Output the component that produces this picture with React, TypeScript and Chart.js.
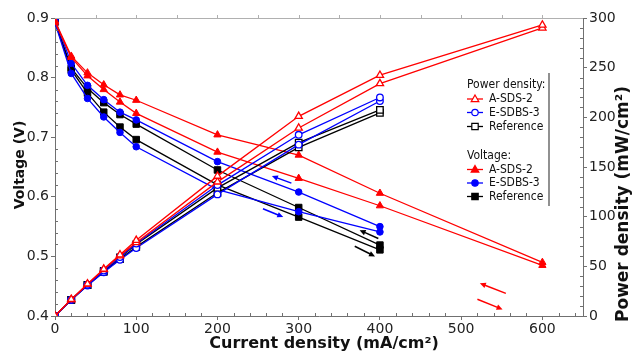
import React, { useEffect, useRef } from "react";
import { Chart, registerables } from "chart.js";

Chart.register(...registerables);

// ---------- data ----------
const currentDensity = [0, 20, 40, 60, 80, 100, 200, 300, 400, 600];

// Voltage (V) – two scan directions per sample
const voltageA1 = [0.895, 0.836, 0.808, 0.788, 0.771, 0.762, 0.704, 0.670, 0.606, 0.490];
const voltageA2 = [0.893, 0.834, 0.803, 0.780, 0.759, 0.740, 0.675, 0.631, 0.585, 0.485];
const voltageE1 = [0.897, 0.824, 0.787, 0.763, 0.742, 0.729, 0.659, 0.608, 0.550];
const voltageE2 = [0.892, 0.807, 0.765, 0.734, 0.708, 0.684, 0.612, 0.575, 0.541];
const voltageR1 = [0.895, 0.816, 0.782, 0.758, 0.738, 0.722, 0.645, 0.582, 0.519];
const voltageR2 = [0.893, 0.813, 0.774, 0.742, 0.717, 0.696, 0.620, 0.566, 0.511];

// Power density (mW/cm²)
const powerA1 = [0, 16.7, 32.3, 47.3, 61.7, 76.2, 140.8, 201.0, 242.4, 293.0];
const powerA2 = [0, 16.7, 32.1, 46.8, 60.7, 74.0, 135.0, 189.3, 234.0, 290.0];
const powerE1 = [0, 16.5, 31.5, 45.8, 59.4, 72.9, 131.8, 182.4, 220.0];
const powerE2 = [0, 16.1, 30.6, 44.0, 56.6, 68.4, 122.4, 172.5, 216.4];
const powerR1 = [0, 16.3, 31.2, 45.5, 59.0, 72.2, 129.0, 174.6, 207.6];
const powerR2 = [0, 16.3, 31.0, 44.5, 57.4, 69.6, 124.0, 169.8, 204.4];

const seriesNames = ["A-SDS-2", "E-SDBS-3", "Reference"];
const legendGroups = ["Power density:", "Voltage:"];

// scan-direction arrows [xFrom, vFrom, xTo, vTo] in data units (current, voltage)
const scanArrowsBlue = [
  [291, 0.623, 267, 0.635],
  [256, 0.580, 281, 0.566],
];
const scanArrowsBlack = [
  [398, 0.530, 375, 0.544],
  [369, 0.517, 394, 0.500],
];
const scanArrowsRed = [
  [555, 0.438, 523, 0.455],
  [520, 0.428, 551, 0.411],
];

const xTitle = "Current density (mA/cm²)";
const yTitle = "Voltage (V)";
const y2Title = "Power density (mW/cm²)";

// ---------- styles ----------
const RED = "#ff0000";
const BLUE = "#0000ff";
const BLACK = "#000000";
const AXIS = "#707070";
const FONT = '"DejaVu Sans"';

function pts(values: number[]) {
  return values.map((v, i) => ({ x: currentDensity[i], y: v }));
}

function ds(label: string, values: number[], color: string, style: string, filled: boolean, axis: string) {
  const r = style === "circle" ? 3.3 : style === "triangle" ? 4.2 : 4.6;
  return {
    label,
    data: pts(values),
    yAxisID: axis,
    borderColor: color,
    backgroundColor: color,
    borderWidth: 1.3,
    pointStyle: style,
    pointRadius: r,
    pointBorderWidth: filled ? 1 : 1.3,
    pointBackgroundColor: filled ? color : "#ffffff",
    pointBorderColor: color,
    showLine: true,
    fill: false,
    tension: 0,
  };
}

function drawMarker(ctx: CanvasRenderingContext2D, style: string, x: number, y: number, color: string, filled: boolean) {
  ctx.save();
  ctx.beginPath();
  if (style === "circle") {
    ctx.arc(x, y, 3.2, 0, Math.PI * 2);
  } else if (style === "triangle") {
    ctx.moveTo(x, y - 4);
    ctx.lineTo(x + 3.8, y + 2.6);
    ctx.lineTo(x - 3.8, y + 2.6);
    ctx.closePath();
  } else {
    ctx.rect(x - 3.2, y - 3.2, 6.4, 6.4);
  }
  ctx.fillStyle = filled ? color : "#ffffff";
  ctx.fill();
  ctx.lineWidth = 1.2;
  ctx.strokeStyle = color;
  ctx.stroke();
  ctx.restore();
}

function drawArrow(ctx: CanvasRenderingContext2D, x1: number, y1: number, x2: number, y2: number, color: string) {
  const ang = Math.atan2(y2 - y1, x2 - x1);
  const hl = 6;
  const hw = 2.8;
  ctx.save();
  ctx.strokeStyle = color;
  ctx.fillStyle = color;
  ctx.lineWidth = 1.5;
  ctx.beginPath();
  ctx.moveTo(x1, y1);
  ctx.lineTo(x2 - Math.cos(ang) * hl * 0.8, y2 - Math.sin(ang) * hl * 0.8);
  ctx.stroke();
  ctx.beginPath();
  ctx.moveTo(x2, y2);
  ctx.lineTo(x2 - Math.cos(ang) * hl - Math.sin(ang) * hw, y2 - Math.sin(ang) * hl + Math.cos(ang) * hw);
  ctx.lineTo(x2 - Math.cos(ang) * hl + Math.sin(ang) * hw, y2 - Math.sin(ang) * hl - Math.cos(ang) * hw);
  ctx.closePath();
  ctx.fill();
  ctx.restore();
}

const decorPlugin = {
  id: "decor",
  afterDraw(chart: any) {
    const ctx: CanvasRenderingContext2D = chart.ctx;
    const { left, right, top, bottom } = chart.chartArea;
    const xs = chart.scales.x;
    const ys = chart.scales.y;
    const y2s = chart.scales.y2;

    ctx.save();
    // top border
    ctx.strokeStyle = "#b0b0b0";
    ctx.lineWidth = 1;
    ctx.beginPath();
    ctx.moveTo(left, top + 0.5);
    ctx.lineTo(right, top + 0.5);
    ctx.stroke();
    for (let v = 50; v < 650; v += 50) {
      const px = Math.round(xs.getPixelForValue(v)) + 0.5;
      ctx.beginPath();
      ctx.moveTo(px, top);
      ctx.lineTo(px, top - 3);
      ctx.stroke();
    }

    // minor ticks (inward)
    ctx.strokeStyle = AXIS;
    for (let v = 20; v < 650; v += 20) {
      if (v % 100 === 0) continue;
      const px = Math.round(xs.getPixelForValue(v)) + 0.5;
      ctx.beginPath();
      ctx.moveTo(px, bottom);
      ctx.lineTo(px, bottom - 3);
      ctx.stroke();
    }
    for (let i = 1; i < 25; i++) {
      if (i % 5 === 0) continue;
      const v = 0.4 + i * 0.02;
      const py = Math.round(ys.getPixelForValue(v)) + 0.5;
      ctx.beginPath();
      ctx.moveTo(left, py);
      ctx.lineTo(left + 3, py);
      ctx.stroke();
    }
    for (let v = 10; v < 300; v += 10) {
      if (v % 50 === 0) continue;
      const py = Math.round(y2s.getPixelForValue(v)) + 0.5;
      ctx.beginPath();
      ctx.moveTo(right, py);
      ctx.lineTo(right - 3, py);
      ctx.stroke();
    }

    // scan direction arrows
    const arrowSets: [number[][], string][] = [
      [scanArrowsBlue, BLUE],
      [scanArrowsBlack, BLACK],
      [scanArrowsRed, RED],
    ];
    for (const [set, color] of arrowSets) {
      for (const a of set) {
        drawArrow(
          ctx,
          xs.getPixelForValue(a[0]),
          ys.getPixelForValue(a[1]),
          xs.getPixelForValue(a[2]),
          ys.getPixelForValue(a[3]),
          color
        );
      }
    }

    // axis titles
    ctx.fillStyle = "#111";
    ctx.textAlign = "center";
    ctx.textBaseline = "middle";
    ctx.font = `bold 16px ${FONT}`;
    ctx.fillText(xTitle, 324, 344);

    ctx.save();
    ctx.translate(20, 165);
    ctx.rotate(-Math.PI / 2);
    ctx.font = `bold 14px ${FONT}`;
    ctx.fillText(yTitle, 0, 0);
    ctx.restore();

    ctx.save();
    ctx.translate(624, 204);
    ctx.rotate(-Math.PI / 2);
    ctx.font = `bold 17px ${FONT}`;
    ctx.fillText(y2Title, 0, 0);
    ctx.restore();

    // legend
    const colors = [RED, BLUE, BLACK];
    const styles = ["triangle", "circle", "rect"];
    const groupY = [85, 156];
    const rowY = [
      [99, 112.5, 126.5],
      [169.5, 183, 196.5],
    ];
    ctx.textAlign = "left";
    ctx.font = `12px "DejaVu Sans Condensed", ${FONT}`;
    ctx.fillStyle = "#111";
    for (let g = 0; g < 2; g++) {
      ctx.fillText(legendGroups[g], 467, groupY[g]);
      for (let k = 0; k < 3; k++) {
        const yy = rowY[g][k];
        ctx.strokeStyle = colors[k];
        ctx.lineWidth = 1.3;
        ctx.beginPath();
        ctx.moveTo(467, yy);
        ctx.lineTo(483, yy);
        ctx.stroke();
        drawMarker(ctx, styles[k], 475, yy, colors[k], g === 1);
        ctx.fillStyle = "#111";
        ctx.fillText(seriesNames[k], 489, yy);
      }
    }
    ctx.strokeStyle = "#555";
    ctx.lineWidth = 1.3;
    ctx.beginPath();
    ctx.moveTo(549, 73);
    ctx.lineTo(549, 206);
    ctx.stroke();

    ctx.restore();
  },
};

export default function App() {
  const canvasRef = useRef<HTMLCanvasElement>(null);

  useEffect(() => {
    if (!canvasRef.current) return;
    const tickFont = { family: FONT, size: 14 };
    const gridOpts = {
      display: true,
      drawOnChartArea: false,
      drawTicks: true,
      tickLength: 4,
      color: AXIS,
    };
    const borderOpts = { display: true, color: AXIS, width: 1 };

    const chart = new Chart(canvasRef.current, {
      type: "line",
      data: {
        datasets: [
          ds("A-SDS-2 P fwd", powerA1, RED, "triangle", false, "y2"),
          ds("A-SDS-2 P bwd", powerA2, RED, "triangle", false, "y2"),
          ds("E-SDBS-3 P fwd", powerE1, BLUE, "circle", false, "y2"),
          ds("E-SDBS-3 P bwd", powerE2, BLUE, "circle", false, "y2"),
          ds("Reference P fwd", powerR1, BLACK, "rect", false, "y2"),
          ds("Reference P bwd", powerR2, BLACK, "rect", false, "y2"),
          ds("A-SDS-2 V fwd", voltageA1, RED, "triangle", true, "y"),
          ds("A-SDS-2 V bwd", voltageA2, RED, "triangle", true, "y"),
          ds("E-SDBS-3 V fwd", voltageE1, BLUE, "circle", true, "y"),
          ds("E-SDBS-3 V bwd", voltageE2, BLUE, "circle", true, "y"),
          ds("Reference V fwd", voltageR1, BLACK, "rect", true, "y"),
          ds("Reference V bwd", voltageR2, BLACK, "rect", true, "y"),
        ] as any,
      },
      options: {
        animation: false,
        responsive: false,
        maintainAspectRatio: false,
        layout: { padding: { top: 18, left: 0, right: 0, bottom: 0 } },
        plugins: {
          legend: { display: false },
          tooltip: { enabled: false },
        },
        scales: {
          x: {
            type: "linear",
            position: "bottom",
            min: 0,
            max: 650,
            ticks: {
              stepSize: 100,
              includeBounds: false,
              font: tickFont,
              color: "#222",
              padding: 1,
              maxRotation: 0,
            },
            grid: gridOpts,
            border: borderOpts,
            afterFit: (s: any) => {
              s.height = 36;
            },
          },
          y: {
            type: "linear",
            position: "left",
            min: 0.4,
            max: 0.9,
            ticks: {
              stepSize: 0.1,
              font: tickFont,
              color: "#222",
              padding: 2,
              callback: (v: any) => Number(v).toFixed(1),
            },
            grid: gridOpts,
            border: borderOpts,
            afterFit: (s: any) => {
              s.width = 55;
            },
          },
          y2: {
            type: "linear",
            position: "right",
            min: 0,
            max: 300,
            ticks: {
              stepSize: 50,
              font: tickFont,
              color: "#222",
              padding: 2,
            },
            grid: gridOpts,
            border: borderOpts,
            afterFit: (s: any) => {
              s.width = 50;
            },
          },
        },
      } as any,
      plugins: [decorPlugin],
    });
    return () => chart.destroy();
  }, []);

  return (
    <div style={{ position: "fixed", left: 0, top: 0, width: 633, height: 352, background: "#fff" }}>
      <canvas ref={canvasRef} width={633} height={352} />
    </div>
  );
}
